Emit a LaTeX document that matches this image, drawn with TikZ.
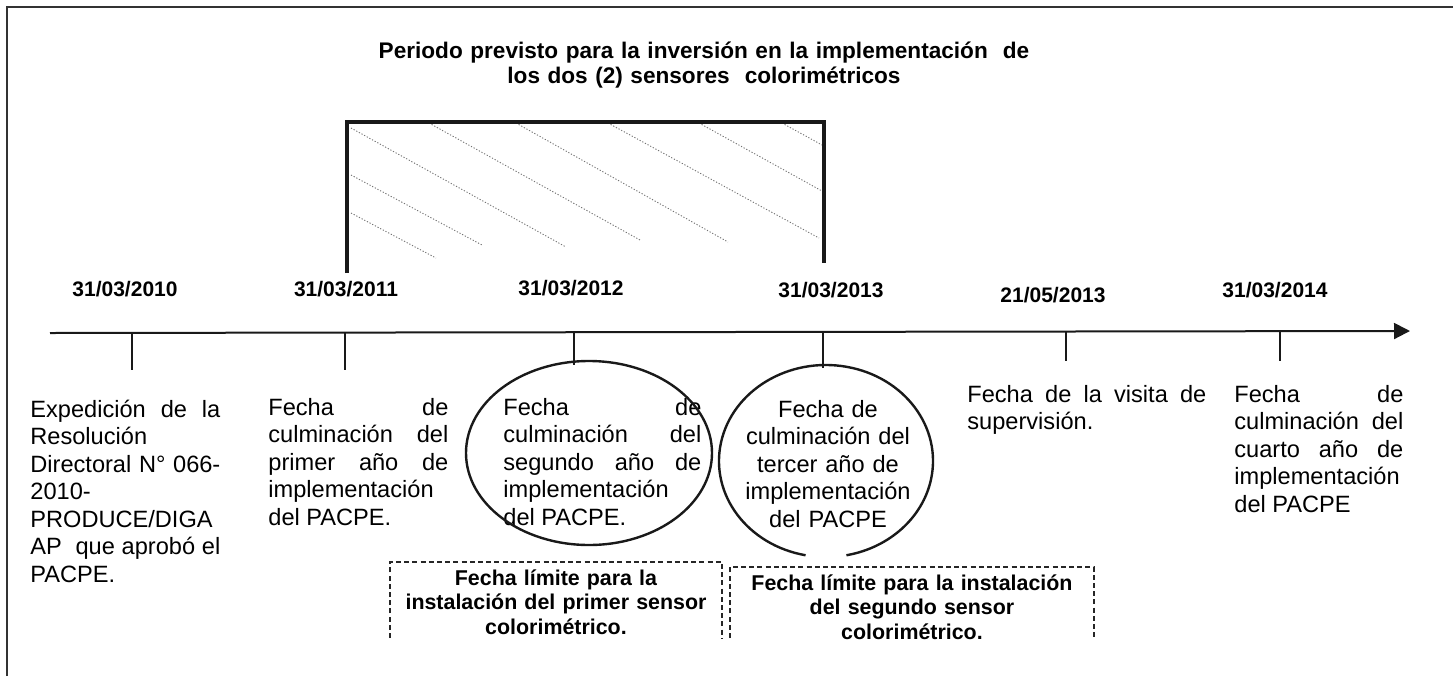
\documentclass[tikz,border=0pt]{standalone}
\usepackage{fontspec}
\setmainfont{Liberation Sans}
\usetikzlibrary{positioning}
\usetikzlibrary{calc}
\usetikzlibrary{arrows.meta}

\begin{document}
\begin{tikzpicture}[
    x=0.5pt, y=-0.5pt,
    date/.style={font=\fontsize{10.5}{12}\selectfont\bfseries, inner sep=0, anchor=base},
    event/.style={font=\fontsize{11.8}{13.75}\selectfont, inner sep=0,
        anchor=base west, align=justify},
    limit/.style={font=\fontsize{10.7}{12.3}\selectfont\bfseries, inner sep=0,
        anchor=base, align=center},
    limit box/.style={draw=black!85, line width=0.6pt, dash pattern=on 2.5pt off 1.6pt},
    hatch/.style={draw=black!55, line width=0.45pt, dash pattern=on 0.6pt off 0.9pt},
    oval/.style={draw=black!90, line width=1.2pt}]

\useasboundingbox (0,0) rectangle (1453,676);

% Page frame

\draw [black!80, line width=0.7pt] (7,676) -- (7,7) -- (1453,7);

% Investment period

\node [font=\fontsize{11.3}{12.5}\selectfont\bfseries, inner sep=0,
    text width=340pt, anchor=base, align=center] (period title) at (704,58)
    {Periodo previsto para la inversión en la implementación~ de\\
     los dos (2) sensores~ colorimétricos};

\coordinate (period sw) at (347,273);
\coordinate (period nw) at (347,122);
\coordinate (period ne) at (824,122);
\coordinate (period se) at (824,263);

\foreach \xa/\ya/\xb/\yb in {351/213/436/258, 351/175/482/245, 351/128/566/247,
        429/123/640/240, 516/123/728/242, 608/123/819/238,
        699/123/822/191, 782/123/822/145}
    \draw [hatch] (\xa,\ya) -- (\xb,\yb);

\draw [black!90, line width=2pt] (period sw) -- (period nw) -- (period ne) -- (period se);

% Time line

\node [date] (d2010) at (125,296) {31/03/2010};
\node [date] (d2011) at (346,296) {31/03/2011};
\node [date] (d2012) at (571,295) {31/03/2012};
\node [date] (d2013) at (831,297) {31/03/2013};
\node [date] (d2105) at (1053,302) {21/05/2013};
\node [date] (d2014) at (1275,297) {31/03/2014};

\coordinate (axis start) at (50,333);
\coordinate (axis end) at (1410,331);
\draw [black!90, line width=1pt, -{Triangle[length=8pt, width=8pt]}]
    (axis start) -- (axis end);

\foreach \n/\x/\y in {1/132/370, 2/345/370, 3/574/365, 4/823/368, 5/1066/361, 6/1280/361} {
    \coordinate (tick top \n) at (\x,332);
    \coordinate (tick end \n) at (\x,\y);
    \draw [black!90, line width=1pt] (tick top \n) -- (tick end \n);
}

% Events

\node [event, text width=95pt] (expedicion) at (30,417)
    {Expedición de la\linebreak Resolución\\
     Directoral N° 066-\linebreak 2010-\\
     PRODUCE/DIGA\\
     AP\ \ que aprobó el\linebreak PACPE.};

\node [event, text width=90pt] (primer) at (268,415)
    {Fecha de\linebreak culminación del\linebreak primer año de\linebreak
     implementación\\ del PACPE.};

\node [event, text width=99pt] (segundo) at (503,415)
    {Fecha de\linebreak culminación del\linebreak segundo año de\linebreak
     implementación\\ del PACPE.};
\draw [oval] (589,453) ellipse [x radius=123, y radius=92];

\node [event, text width=95pt, anchor=base, align=center] (tercer) at (828,417)
    {Fecha de\\ culminación del\\ tercer año de\\ implementación\\ del PACPE};
\draw [oval] ($(826,461)+(101:107 and 96)$)
    arc [start angle=101, end angle=439, x radius=107, y radius=96];

\node [event, text width=119.5pt] (visita) at (967,402)
    {Fecha de la visita de\linebreak supervisión.};

\node [event, text width=84.5pt] (cuarto) at (1234,402)
    {Fecha de\linebreak culminación del\linebreak cuarto año de\linebreak
     implementación\\ del PACPE};

% Deadlines

\node [limit, text width=160pt] (limite primer) at (556,585)
    {Fecha límite para la\\ instalación del primer sensor\\ colorimétrico.};
\coordinate (lim1 sw) at (390,638);
\coordinate (lim1 nw) at (390,562);
\coordinate (lim1 ne) at (722,562);
\coordinate (lim1 se) at (722,638);
\draw [limit box] (lim1 sw) -- (lim1 nw) -- (lim1 ne) -- (lim1 se);

\node [limit, text width=175pt] (limite segundo) at (912,590)
    {Fecha límite para la instalación\\ del segundo sensor\\ colorimétrico.};
\coordinate (lim2 sw) at (730,638);
\coordinate (lim2 nw) at (730,567);
\coordinate (lim2 ne) at (1094,567);
\coordinate (lim2 se) at (1094,638);
\draw [limit box] (lim2 sw) -- (lim2 nw) -- (lim2 ne) -- (lim2 se);

\end{tikzpicture}
\end{document}
